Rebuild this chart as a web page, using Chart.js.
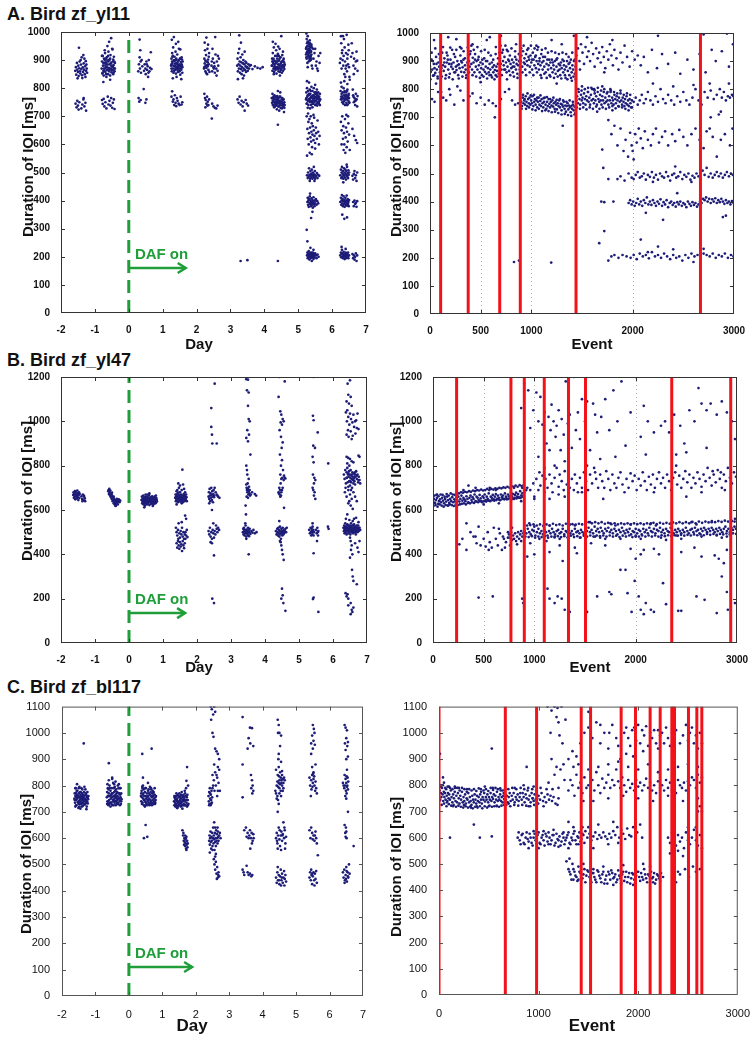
<!DOCTYPE html>
<html>
<head>
<meta charset="utf-8">
<script src="https://cdn.jsdelivr.net/npm/chart.js@4.4.1/dist/chart.umd.min.js"></script>
<style>
  body { margin: 0; background: #fff; }
  #fig { position: relative; width: 754px; height: 1039px; font-family: "Liberation Sans", Arial, sans-serif; color: #111; overflow: hidden; }
  .panel { position: absolute; }
  .title { position: absolute; left: 7px; font-weight: bold; font-size: 18px; line-height: 18px; white-space: nowrap; }
  .lab { position: absolute; font-weight: bold; font-size: 15px; line-height: 15px; white-space: nowrap; transform: translate(-50%, -50%); }
  .ylab { transform: translate(-50%, -50%) rotate(-90deg); }
  .big { font-size: 17px; line-height: 17px; }
</style>
</head>
<body>
<div id="fig">
  <div class="title" style="top:5px">A. Bird zf_yl11</div>
  <div class="title" style="top:351px">B. Bird zf_yl47</div>
  <div class="title" style="top:678px">C. Bird zf_bl117</div>

  <div class="panel" id="pAL"></div>
  <div class="panel" id="pAR"></div>
  <div class="panel" id="pBL"></div>
  <div class="panel" id="pBR"></div>
  <div class="panel" id="pCL"></div>
  <div class="panel" id="pCR"></div>

  <div class="lab ylab" style="left:27px;top:167px">Duration of IOI [ms]</div>
  <div class="lab ylab" style="left:395px;top:167px">Duration of IOI [ms]</div>
  <div class="lab ylab" style="left:26px;top:491px">Duration of IOI [ms]</div>
  <div class="lab ylab" style="left:395px;top:492px">Duration of IOI [ms]</div>
  <div class="lab ylab" style="left:25px;top:864px">Duration of IOI [ms]</div>
  <div class="lab ylab" style="left:395px;top:867px">Duration of IOI [ms]</div>

  <div class="lab" style="left:199px;top:343px">Day</div>
  <div class="lab" style="left:592px;top:343px">Event</div>
  <div class="lab" style="left:199px;top:666px">Day</div>
  <div class="lab" style="left:590px;top:666px">Event</div>
  <div class="lab big" style="left:192px;top:1025px">Day</div>
  <div class="lab big" style="left:592px;top:1025px">Event</div>
</div>

<script>
// axis settings
const dayMin = -2, dayMax = 7;
const ioiMaxA = 1000, ioiStepA = 100;
const ioiMaxB = 1200, ioiStepB = 200;
const ioiMaxC = 1100, ioiStepC = 100;
const eventTicksAB = [0, 500, 1000, 2000, 3000];
const eventTicksC = [0, 1000, 2000, 3000];
const eventGridAB = [500, 1000, 2000];

// red markers (event index)
const redA = [105, 377, 688, 891, 1441, 2669];
const redB = [233, 769, 901, 1098, 1337, 1505, 2356, 2938];
const redC = [0, 666, 980, 1428, 1522, 1829, 1973, 2120, 2221, 2338, 2351, 2365, 2505, 2589, 2639];

// "DAF on" arrow: end day and IOI level
const dafEnd = [1.68, 1.65, 1.89];
const dafLevel = [160, 135, 110];

// Bird A, day x100 / IOI ms
const dayA = [
  -158,862, -156,875, -155,848, -153,890, -152,866, -150,858, -149,880, -148,843, -146,871, -145,895, -144,860, -143,852, -141,884, -140,868, -139,910, -138,846, -136,874, -135,858, -133,888, -132,866, -130,850, -129,878, -128,840, -126,862, -125,884, -124,870, -123,855, -147,944, -134,918, -142,900, -127,896, -137,836, -151,835, -131,905,
  -157,745, -154,732, -152,755, -150,738, -148,724, -146,750, -140,728, -137,742, -134,760, -131,735, -128,748, -126,720, -133,765,
  -80,870, -79,895, -78,852, -77,915, -76,880, -75,862, -74,845, -73,905, -72,888, -71,870, -70,925, -69,858, -68,892, -67,876, -66,840, -65,910, -64,866, -63,898, -62,884, -61,850, -60,930, -59,872, -58,860, -57,900, -56,885, -55,845, -54,918, -53,868, -52,890, -51,856, -50,878, -49,940, -48,864, -47,895, -46,850, -45,882, -44,912, -43,870, -42,860, -41,890, -58,965, -52,978, -63,950, -71,935, -48,938, -75,822, -55,830, -67,905, -61,915, -54,870, -66,887, -72,862, -46,902,
  -79,915, -77,855, -75,890, -73,870, -71,900, -69,880, -67,850, -65,875, -63,865, -61,895, -59,900, -57,865, -55,905, -53,890, -51,880, -49,865, -47,875, -45,855, -43,895, -41,870,
  -79,758, -77,744, -74,762, -72,735, -69,750, -66,728, -62,770, -60,742, -57,755, -54,738, -52,765, -49,730, -47,748, -44,760, -42,726,
  28,860, 30,885, 32,910, 33,870, 34,935, 35,895, 36,855, 38,900, 40,878, 45,862, 47,885, 49,870, 50,850, 52,895, 54,865, 56,878, 57,840, 59,900, 61,860, 63,872, 65,928, 67,868, 32,973, 53,885, 58,855,
  29,765, 31,752, 35,758, 49,748, 52,760, 44,797,
  125,880, 126,905, 127,860, 128,925, 129,890, 130,870, 131,945, 132,855, 133,898, 134,878, 135,912, 136,865, 137,888, 138,930, 139,852, 140,875, 141,900, 142,868, 143,920, 144,884, 145,858, 146,895, 147,872, 148,940, 149,862, 150,885, 151,905, 152,848, 153,878, 154,893, 155,866, 156,910, 157,880, 158,855, 159,895, 127,972, 133,982, 139,958, 146,965, 152,938, 130,835, 141,840, 155,832, 126,885, 134,862, 143,890, 150,870, 157,902, 136,898, 148,880, 129,912, 145,875,
  126,870, 128,895, 130,915, 132,880, 134,900, 136,880, 138,870, 140,905, 142,885, 144,865, 146,880, 148,900, 150,860, 152,905, 154,870, 156,885, 158,875,
  126,770, 128,789, 130,752, 132,760, 134,740, 136,775, 138,748, 140,736, 142,765, 144,755, 147,745, 150,740, 153,770, 156,742, 158,750,
  222,870, 223,905, 224,888, 225,935, 226,860, 227,880, 228,918, 229,872, 230,895, 231,850, 232,940, 233,878, 234,902, 235,865, 236,885, 237,925, 238,858, 224,962, 229,980, 234,955, 226,898, 231,882, 236,912, 223,875, 228,855, 233,892, 244,880, 246,860, 248,905, 250,875, 252,890, 254,855, 256,920, 258,870, 260,895, 262,862, 264,880, 266,905, 247,940, 255,982, 259,845, 263,915, 251,870, 245,895, 253,878,
  223,780, 225,765, 227,758, 229,745, 231,770, 233,752, 235,740, 237,760, 226,732, 232,738, 246,745, 250,735, 254,730, 258,728, 262,738, 245,692,
  320,880, 321,905, 322,860, 323,925, 324,885, 325,870, 326,940, 327,895, 328,855, 329,880, 330,910, 331,868, 332,892, 333,850, 334,875, 335,920, 336,862, 337,888, 338,900, 339,870, 340,845, 341,885, 342,930, 343,865, 344,895, 345,878, 346,858, 347,890, 349,875, 351,862, 353,885, 355,870, 357,880, 326,988, 331,962, 322,832, 337,835, 350,872, 360,882, 365,868, 372,878, 380,872, 388,870, 395,875,
  321,760, 324,748, 327,770, 330,742, 333,755, 336,735, 339,750, 342,720, 345,758, 348,745, 352,738, 330,185, 350,188,
  422,880, 423,905, 424,862, 425,925, 426,890, 427,870, 428,945, 429,858, 430,898, 431,878, 432,915, 433,865, 434,888, 435,935, 436,852, 437,875, 438,905, 439,868, 440,922, 441,885, 442,860, 443,898, 444,872, 445,940, 446,858, 447,885, 448,910, 449,865, 450,878, 451,895, 452,855, 453,918, 454,882, 455,862, 456,900, 457,875, 458,892, 459,868, 460,885, 425,965, 433,958, 450,985, 441,948, 428,850, 446,845, 437,895, 455,930, 430,875, 443,915, 424,895, 452,878,
  423,880, 425,895, 427,905, 429,885, 431,870, 433,895, 435,870, 437,915, 439,895, 441,870, 443,880, 445,905, 447,870, 449,890, 451,870, 453,895, 455,880, 457,905, 459,880,
  422,765, 423,748, 424,780, 425,755, 426,740, 427,770, 428,760, 429,732, 430,775, 431,752, 432,745, 433,768, 434,738, 435,760, 436,750, 437,725, 438,772, 439,745, 440,758, 441,735, 442,765, 443,748, 444,720, 445,755, 446,742, 447,770, 448,730, 449,752, 450,745, 451,762, 452,728, 453,750, 454,740, 455,758, 456,735, 457,745, 458,715, 459,750, 460,740, 440,790, 447,785, 440,670, 440,185,
  423,765, 425,740, 427,750, 429,765, 431,735, 433,745, 435,740, 437,755, 439,765, 441,750, 443,735, 445,770, 447,755, 449,740, 451,730, 453,765, 455,745, 457,760, 459,730,
  523,920, 524,945, 525,905, 526,960, 527,930, 528,985, 529,915, 530,940, 531,895, 532,955, 533,925, 534,970, 535,910, 536,935, 537,900, 538,950, 539,920, 540,880, 524,995, 528,875, 531,938, 535,960, 539,905, 526,928, 533,948, 537,915, 525,975, 530,922, 534,898, 538,930, 527,890, 532,912, 536,945, 529,965, 545,905, 548,925, 552,880, 556,870, 560,915, 563,890, 542,870, 550,940, 558,862, 565,925, 544,940, 554,895,
  523,940, 525,925, 527,950, 529,935, 531,960, 533,905, 535,945, 537,930, 539,955, 524,910, 528,965, 532,930, 536,915, 540,945,
  523,760, 524,785, 525,745, 526,800, 527,770, 528,755, 529,790, 530,740, 531,775, 532,820, 533,760, 534,795, 535,750, 536,780, 537,765, 538,740, 539,805, 540,770, 541,755, 542,790, 543,745, 544,775, 545,760, 546,800, 547,750, 548,785, 549,765, 550,740, 551,780, 552,755, 553,770, 554,745, 555,795, 556,760, 557,775, 558,750, 559,785, 560,765, 561,745, 562,770, 563,755, 564,780, 565,760, 528,730, 535,728, 542,732, 550,812, 526,825, 531,755, 544,765, 537,790, 548,768, 556,738,
  524,765, 526,745, 528,775, 530,760, 532,780, 534,755, 536,765, 538,770, 540,750, 542,770, 544,745, 546,775, 548,755, 550,765, 552,785, 554,765, 556,780, 558,770, 560,750, 562,760, 564,740,
  525,700, 527,655, 528,620, 530,680, 531,600, 532,640, 533,690, 534,570, 535,660, 536,625, 537,700, 538,610, 539,645, 540,675, 541,590, 542,635, 543,665, 545,615, 546,650, 547,695, 548,630, 550,605, 552,660, 553,640, 555,620, 557,685, 559,645, 561,600, 563,630, 526,560, 540,565, 550,585, 529,710, 545,705,
  526,490, 528,480, 529,500, 531,485, 532,515, 533,492, 535,478, 536,505, 537,488, 538,495, 539,482, 540,510, 541,490, 542,478, 543,500, 544,488, 545,495, 546,520, 547,483, 548,492, 549,505, 550,478, 551,490, 553,486, 555,498, 557,480, 559,492, 562,488, 548,470, 534,470,
  527,395, 528,410, 529,385, 530,400, 531,378, 532,405, 533,392, 534,415, 535,388, 536,400, 537,380, 538,395, 539,408, 540,390, 541,385, 542,402, 543,375, 544,395, 545,412, 546,388, 547,398, 548,380, 549,400, 550,390, 552,405, 554,385, 556,398, 559,390, 535,425, 542,360, 538,338,
  526,205, 527,215, 528,195, 529,210, 530,200, 531,220, 532,205, 533,190, 534,212, 535,200, 536,208, 537,195, 538,215, 539,202, 540,210, 541,198, 542,206, 543,215, 544,200, 545,192, 546,210, 547,205, 548,198, 550,212, 552,205, 554,195, 557,208, 560,200, 536,232, 545,225, 540,185, 525,296, 527,255,
  625,905, 627,960, 628,870, 630,935, 632,985, 633,880, 634,915, 636,850, 637,945, 638,895, 640,870, 641,925, 643,990, 644,860, 645,905, 647,885, 648,955, 650,875, 651,840, 646,920, 639,840, 631,900, 642,880, 635,975, 629,925, 660,925, 663,880, 665,905, 668,870, 672,930, 675,862, 658,960, 670,895, 652,830, 626,985, 649,935, 664,850, 674,898, 623,890, 656,912,
  625,790, 627,770, 628,805, 630,750, 631,785, 632,765, 633,745, 634,800, 635,775, 636,755, 637,790, 638,740, 639,770, 640,760, 641,785, 642,748, 643,775, 644,760, 645,795, 646,742, 647,770, 648,755, 649,780, 650,765, 651,748, 626,820, 636,825, 645,815, 662,775, 664,750, 666,765, 668,740, 670,780, 672,760, 674,735, 661,795, 669,755, 675,772, 629,760, 644,740,
  626,760, 628,780, 630,770, 632,750, 634,765, 636,785, 638,760, 640,775, 642,770, 644,790, 646,765, 648,775, 650,750, 663,770, 667,755, 671,760,
  626,680, 628,650, 630,700, 632,620, 633,665, 635,640, 636,600, 638,690, 640,625, 641,660, 643,590, 644,645, 646,610, 648,675, 650,635, 652,580, 628,600, 639,570, 647,700, 665,630, 670,615, 674,605, 660,655, 642,705, 634,580,
  624,490, 626,510, 627,480, 628,500, 629,520, 630,485, 631,495, 632,505, 633,478, 634,492, 635,515, 636,488, 637,500, 638,482, 639,510, 640,495, 641,475, 642,505, 643,490, 644,520, 645,485, 646,498, 647,480, 648,508, 649,492, 650,500, 660,488, 662,475, 664,495, 666,505, 668,480, 670,490, 672,470, 674,500, 633,465, 643,528,
  624,395, 626,410, 627,385, 628,400, 629,420, 630,390, 631,405, 632,380, 633,398, 634,415, 635,388, 636,402, 637,378, 638,395, 639,410, 640,385, 641,400, 642,392, 643,418, 644,382, 645,398, 646,405, 647,388, 648,395, 649,380, 650,402, 662,395, 664,380, 666,400, 668,388, 670,392, 672,378, 674,398, 630,350, 636,335, 644,340,
  624,205, 626,215, 627,198, 628,210, 629,225, 630,200, 631,212, 632,195, 633,205, 634,218, 635,200, 636,208, 637,192, 638,210, 639,202, 640,215, 641,195, 642,205, 643,210, 644,198, 645,208, 646,200, 647,215, 648,195, 650,205, 660,210, 662,195, 664,205, 666,190, 668,200, 670,212, 672,185, 674,205, 628,235, 640,228
];

// Bird A, event / IOI ms
const evtA = [
  0,880, 8,862, 15,905, 22,870, 30,848, 38,890, 45,875, 52,858, 60,915, 68,870, 75,845, 82,895, 90,880, 98,860,
  105,900, 112,875, 120,930, 128,885, 135,865, 142,910, 150,880, 158,850, 165,895, 172,920, 180,870, 188,890, 195,855, 202,905, 210,880, 218,940, 225,872, 232,895, 240,860, 248,915, 255,880, 262,868, 270,900, 278,850, 285,888, 292,875, 300,920, 308,862, 315,895, 322,878, 330,905, 338,860, 345,885, 352,870, 360,850, 368,895,
  378,920, 385,900, 392,880, 400,935, 408,890, 415,870, 422,912, 430,895, 438,860, 445,925, 452,880, 460,900, 468,870, 475,905, 482,885, 490,860, 498,895, 505,875, 512,850, 520,890, 528,870, 535,910, 542,862, 550,880, 558,855, 565,900, 572,875, 580,860, 588,890, 595,870, 602,850, 610,895, 618,878, 625,860, 632,885, 640,868, 648,850, 655,880, 662,865, 670,890, 678,855,
  690,910, 698,890, 705,870, 712,930, 720,900, 728,885, 735,915, 742,870, 750,895, 758,940, 765,880, 772,905, 780,865, 788,920, 795,890, 802,875, 810,905, 818,860, 825,895, 832,880, 840,915, 848,870, 855,890, 862,855, 870,885, 878,900, 885,870,
  895,900, 902,920, 910,880, 918,935, 925,895, 932,910, 940,870, 948,925, 955,900, 962,885, 970,945, 978,905, 985,880, 992,920, 1000,895, 1008,870, 1015,930, 1022,905, 1030,885, 1038,915, 1045,875, 1052,900, 1060,940, 1068,890, 1075,870, 1082,910, 1090,885, 1098,925, 1105,895, 1112,870, 1120,900, 1128,880, 1135,915, 1142,860, 1150,890, 1158,905, 1165,870, 1172,885, 1180,850, 1188,895, 1195,875, 1202,905, 1210,860, 1218,885, 1225,870, 1232,900, 1240,855, 1248,880, 1255,910, 1262,865, 1270,890, 1278,870, 1285,850, 1292,895, 1300,875, 1308,905, 1315,860, 1322,885, 1330,870, 1338,840, 1345,880, 1352,900, 1360,865, 1368,890, 1375,850, 1382,875, 1390,905, 1398,860, 1405,885, 1412,870, 1420,900, 1428,855, 1436,880,
  4,835, 16,930, 28,900, 40,850, 52,945, 64,890, 76,838, 88,925, 100,910, 116,845, 128,950, 140,895, 152,838, 164,930, 176,905, 188,842, 200,948, 212,890, 224,835, 236,925, 248,860, 260,940, 272,885, 284,838, 296,950, 308,900, 320,845, 332,935, 344,910, 356,840, 372,948, 384,860, 396,925, 408,955, 420,850, 432,940, 444,905, 456,845, 468,950, 480,915, 492,840, 504,935, 516,905, 528,845, 540,940, 552,900, 564,838, 576,930, 588,850, 600,920, 612,842, 624,905, 636,835, 648,925, 660,845, 672,910, 684,930, 696,955, 708,850, 720,940, 732,870, 744,955, 756,860, 768,935, 780,900, 792,850, 804,945, 816,880, 828,845, 840,935, 852,905, 864,840, 876,925, 888,850, 900,945, 912,860, 924,955, 936,890, 948,850, 960,940, 972,915, 984,860, 996,955, 1008,905, 1020,850, 1032,945, 1044,920, 1056,860, 1068,950, 1080,900, 1092,850, 1104,940, 1116,915, 1128,855, 1140,945, 1152,840, 1164,930, 1176,905, 1188,845, 1200,935, 1212,895, 1224,840, 1236,930, 1248,905, 1260,845, 1272,925, 1284,885, 1296,838, 1308,930, 1320,900, 1332,850, 1344,925, 1356,835, 1368,915, 1380,895, 1392,840, 1404,930, 1416,845, 1428,905, 1438,835,
  40,975, 180,985, 260,978, 420,960, 560,975, 590,985, 700,990, 850,960, 1050,955, 1200,975, 1300,960, 1420,990, 310,945, 650,950, 500,825, 760,835, 1100,840, 1250,820, 1400,830, 60,820,
  1445,920, 1460,945, 1475,900, 1490,960, 1505,930, 1520,890, 1535,950, 1550,915, 1565,935, 1580,900, 1595,965, 1610,925, 1625,880, 1640,945, 1655,910, 1670,930, 1685,895, 1700,950, 1715,915, 1730,875, 1745,935, 1760,905, 1775,960, 1790,920, 1805,885, 1820,940, 1840,910, 1860,870, 1880,930, 1900,895, 1920,955, 1945,915, 1970,880, 1995,935, 2020,905, 2050,920, 2080,885, 2110,915, 2150,860, 2190,940, 2240,875, 2290,925, 2350,890, 2420,930, 2470,855, 2540,905, 2600,870, 2660,925, 2720,860, 2780,940, 2820,900, 2880,935, 2950,880, 2990,960, 1550,985, 1800,975, 2250,990, 2700,995, 2930,998, 1480,870, 1720,860,
  20,765, 45,755, 80,790, 130,770, 160,760, 200,780, 240,745, 300,795, 330,760, 390,775, 420,785, 460,750, 500,770, 540,745, 580,760, 620,750, 650,740, 700,765, 740,790, 780,800, 810,760, 840,745, 870,750, 190,800, 270,810, 110,790, 640,700,
  900,755, 908,740, 915,770, 922,750, 930,760, 938,745, 945,775, 952,755, 960,740, 968,765, 975,750, 982,770, 990,745, 998,760, 1005,750, 1012,775, 1020,740, 1028,755, 1035,765, 1042,745, 1050,760, 1058,735, 1065,755, 1072,770, 1080,745, 1088,758, 1095,740, 1102,765, 1110,750, 1118,735, 1125,755, 1132,770, 1140,745, 1148,730, 1155,755, 1162,740, 1170,765, 1178,748, 1185,735, 1192,755, 1200,742, 1208,760, 1215,738, 1222,750, 1230,730, 1238,755, 1245,745, 1252,728, 1260,750, 1268,740, 1275,760, 1282,735, 1290,748, 1298,725, 1305,745, 1312,738, 1320,755, 1328,730, 1335,742, 1342,720, 1350,740, 1358,750, 1365,728, 1372,742, 1380,735, 1388,718, 1395,740, 1402,730, 1410,745, 1418,725, 1426,738, 1434,715, 1310,670,
  904,730, 918,780, 934,765, 948,730, 962,785, 978,735, 994,778, 1010,728, 1026,780, 1042,725, 1058,770, 1074,730, 1090,778, 1106,722, 1122,768, 1138,725, 1154,772, 1170,722, 1186,765, 1202,718, 1218,770, 1234,720, 1250,762, 1266,715, 1282,765, 1298,710, 1314,760, 1330,712, 1346,755, 1362,708, 1378,760, 1394,705, 1410,755, 1426,710,
  1445,760, 1452,775, 1460,750, 1468,790, 1475,765, 1482,745, 1490,780, 1498,760, 1505,770, 1512,750, 1520,785, 1528,765, 1535,745, 1542,775, 1550,760, 1558,790, 1565,755, 1572,770, 1580,745, 1588,780, 1595,760, 1602,800, 1610,765, 1618,750, 1625,785, 1632,760, 1640,775, 1648,745, 1655,790, 1662,765, 1670,755, 1678,780, 1685,760, 1692,745, 1700,775, 1708,760, 1715,790, 1722,750, 1730,770, 1738,755, 1745,785, 1752,760, 1760,745, 1768,775, 1775,760, 1782,790, 1790,750, 1798,770, 1805,760, 1812,745, 1820,780, 1828,765, 1835,750, 1842,775, 1850,760, 1858,740, 1865,770, 1872,755, 1880,785, 1888,760, 1895,745, 1902,770, 1910,755, 1918,740, 1925,765, 1932,750, 1940,775, 1948,745, 1955,760, 1962,740, 1970,765, 1978,750, 1985,735, 1992,760, 1500,810, 1560,805, 1620,800, 1700,810, 1780,800, 1650,720, 1800,725,
  1448,735, 1464,800, 1480,730, 1496,795, 1512,735, 1528,800, 1544,728, 1560,790, 1576,735, 1592,805, 1608,730, 1624,795, 1640,738, 1656,805, 1672,730, 1688,795, 1704,735, 1720,800, 1736,730, 1752,790, 1768,735, 1784,795, 1800,740, 1816,790, 1832,732, 1848,785, 1864,738, 1880,795, 1896,735, 1912,780, 1928,730, 1944,785, 1960,725, 1976,780, 1994,735,
  2010,755, 2030,770, 2050,745, 2070,760, 2090,780, 2110,750, 2130,765, 2150,790, 2175,760, 2200,745, 2225,775, 2250,755, 2275,800, 2300,765, 2325,750, 2350,780, 2380,760, 2410,745, 2440,775, 2470,755, 2500,790, 2530,760, 2560,745, 2590,770, 2620,800, 2650,760, 2680,745, 2710,790, 2740,770, 2770,795, 2800,765, 2830,780, 2860,800, 2880,770, 2900,790, 2920,760, 2940,775, 2960,770, 2980,780, 2995,775, 2200,820, 2400,810, 2600,815, 2760,820, 2950,820, 2870,720,
  1760,690, 1790,640, 1820,670, 1850,600, 1880,660, 1910,580, 1930,620, 1955,560, 1975,645, 1990,600, 2010,550, 2025,640, 2040,610, 2060,660, 2080,625, 2100,590, 2120,650, 2150,620, 2180,600, 2200,640, 2230,660, 2260,610, 2290,630, 2320,650, 2350,600, 2390,640, 2420,615, 2460,655, 2500,630, 2540,600, 2580,640, 2620,660, 2660,620, 2700,590, 2730,650, 2760,660, 2790,630, 2830,560, 2870,620, 2910,640, 2960,600, 2985,660, 2000,580, 2850,710, 2770,700,
  1850,480, 1880,490, 1920,475, 1960,500, 1990,485, 2010,480, 2030,495, 2050,505, 2070,485, 2090,490, 2110,500, 2130,478, 2150,495, 2170,488, 2190,505, 2210,485, 2230,495, 2250,478, 2270,500, 2290,490, 2310,485, 2330,505, 2350,490, 2370,475, 2390,495, 2410,500, 2430,485, 2450,490, 2470,505, 2490,480, 2510,495, 2530,488, 2550,500, 2570,478, 2590,492, 2610,485, 2630,500, 2650,490, 2670,480, 2690,510, 2710,495, 2730,520, 2750,488, 2770,500, 2790,485, 2810,495, 2830,505, 2850,490, 2870,500, 2890,485, 2910,495, 2930,505, 2950,490, 2970,500, 2990,495, 2420,525, 2200,470, 2580,470,
  1960,395, 1975,405, 1990,390, 2005,400, 2020,385, 2035,395, 2050,410, 2065,390, 2080,400, 2095,385, 2110,405, 2125,395, 2140,415, 2155,390, 2170,400, 2185,388, 2200,405, 2215,395, 2230,385, 2245,400, 2260,392, 2275,408, 2290,385, 2305,398, 2320,390, 2335,405, 2350,380, 2365,395, 2380,400, 2395,388, 2410,395, 2425,382, 2440,398, 2455,390, 2470,400, 2485,385, 2500,395, 2515,390, 2530,380, 2545,400, 2560,392, 2575,385, 2590,398, 2605,388, 2620,395, 2635,382, 2650,390, 2665,400, 2680,395, 2695,410, 2710,405, 2725,415, 2740,400, 2755,410, 2770,395, 2785,408, 2800,400, 2815,412, 2830,395, 2845,405, 2860,398, 2875,410, 2890,400, 2905,392, 2920,405, 2935,395, 2950,400, 2965,390, 2980,402, 2995,395, 1810,400, 1690,400, 2440,430, 2130,360, 2300,335, 2920,350, 2890,345,
  1760,190, 1790,205, 1820,210, 1860,200, 1900,210, 1940,205, 1980,200, 2010,210, 2040,195, 2070,215, 2100,205, 2130,210, 2160,198, 2190,220, 2220,205, 2250,210, 2280,200, 2310,215, 2340,205, 2370,195, 2400,210, 2430,200, 2460,205, 2490,190, 2520,210, 2550,200, 2580,215, 2610,205, 2640,210, 2670,200, 2700,215, 2730,210, 2760,205, 2790,215, 2820,200, 2850,210, 2880,205, 2910,215, 2940,200, 2970,210, 2995,205, 2250,240, 2150,220, 2700,232, 2400,230, 2600,185, 2080,265,
  829,185, 878,190, 1196,183, 1720,295, 1670,252, 1700,585, 1710,520, 1760,480, 1720,398
];

// Bird B, day x100 / IOI ms
const dayB = [
  -164,668, -163,680, -162,655, -161,672, -160,660, -159,685, -158,648, -157,670, -156,662, -155,678, -154,652, -153,666, -152,688, -151,658, -150,675, -149,645, -148,668, -147,680, -146,655, -145,672, -140,662, -138,650, -136,670, -134,645, -132,660, -130,652, -129,640, -133,665, -137,640,
  -61,685, -60,690, -59,672, -58,695, -57,680, -56,668, -55,688, -54,660, -53,675, -52,655, -51,670, -50,648, -49,662, -48,640, -47,658, -46,645, -45,630, -44,650, -43,638, -42,625, -41,645, -40,632, -39,618, -38,640, -37,628, -36,650, -35,635, -34,645, -33,625, -32,640, -30,648, -28,635, -26,642, -55,665, -50,678, -45,660, -40,620,
  37,645, 38,660, 39,630, 40,650, 41,640, 42,665, 43,625, 44,648, 45,635, 46,658, 47,620, 48,645, 49,670, 50,632, 51,652, 52,640, 53,625, 54,660, 55,645, 56,630, 57,655, 58,640, 59,668, 60,622, 61,648, 62,635, 63,658, 64,642, 65,628, 66,650, 67,638, 68,662, 69,630, 70,645, 71,655, 72,625, 73,648, 74,638, 75,660, 76,632, 77,650, 78,642, 79,665, 80,635, 81,648, 82,640, 45,612, 60,675, 70,618, 55,670,
  38,645, 40,630, 42,645, 44,655, 46,640, 48,630, 50,660, 52,650, 54,635, 56,650, 58,655, 60,645, 62,650, 64,655, 66,640, 68,645, 70,635, 72,650, 74,655, 76,645, 78,630, 80,655,
  136,655, 137,670, 138,640, 139,662, 140,685, 141,648, 142,660, 143,675, 144,635, 145,655, 146,668, 147,700, 148,645, 149,660, 150,680, 151,638, 152,658, 153,670, 154,650, 155,690, 156,642, 157,665, 158,655, 159,715, 160,648, 161,672, 162,658, 163,640, 164,665, 165,680, 166,652, 167,645, 168,670, 169,658, 170,640, 140,625, 150,710, 162,695, 145,720, 155,630, 148,680, 158,635, 152,645, 142,690, 157,782,
  137,655, 139,650, 141,670, 143,655, 145,640, 147,660, 149,650, 151,665, 153,655, 155,660, 157,645, 159,660, 161,650, 163,670, 165,660, 167,655,
  138,520, 140,500, 142,485, 144,510, 146,540, 148,495, 150,475, 152,505, 154,490, 156,520, 158,480, 160,500, 162,470, 164,490, 166,500, 168,485, 170,510, 172,478, 140,450, 142,430, 144,460, 146,440, 148,425, 150,455, 152,435, 154,445, 156,415, 158,460, 160,440, 162,428, 164,450, 166,470, 168,560, 165,575, 155,545, 145,470,
  234,660, 235,680, 236,650, 237,695, 238,665, 239,640, 240,675, 241,655, 242,700, 243,668, 244,645, 245,685, 246,660, 247,635, 248,672, 249,690, 250,658, 251,665, 258,670, 262,660, 266,655, 255,680, 252,700, 236,630, 244,600, 260,665,
  234,505, 236,490, 238,520, 240,480, 242,500, 244,470, 246,510, 248,495, 250,475, 252,505, 254,490, 256,530, 258,515, 260,500, 262,520, 265,510, 240,455, 248,540, 244,450,
  252,1170, 242,1060, 242,975, 244,940, 245,900, 258,900, 245,200, 250,180, 250,395,
  345,1190, 350,1188, 347,1140, 352,1130, 350,1070, 352,1010, 355,1000, 348,960, 353,940, 345,925, 350,910, 357,850, 345,800, 347,780, 348,760, 352,740, 345,715, 346,700, 347,690, 348,680, 349,720, 350,695, 351,670, 352,685, 353,705, 354,675, 355,690, 356,665, 346,660, 350,655, 358,670, 362,680, 370,672, 374,665, 343,620, 344,580,
  335,500, 336,515, 337,490, 338,520, 339,505, 340,485, 341,510, 342,495, 343,530, 344,500, 345,480, 346,512, 347,495, 348,505, 349,488, 350,520, 351,498, 352,510, 353,482, 354,500, 355,515, 357,492, 360,505, 363,498, 366,510, 370,495, 375,500, 352,400, 345,470, 342,540,
  442,1200, 458,1180, 440,1110, 445,1045, 448,1030, 452,1010, 446,995, 450,985, 455,1000, 443,960, 447,930, 452,905, 449,880, 444,850, 450,825, 447,800, 453,780, 445,760, 456,755, 451,745, 448,740, 455,735, 446,720, 442,700, 444,690, 448,680, 441,675, 443,670, 447,665, 450,690, 452,700, 458,745, 460,742, 440,680, 445,660, 456,610,
  432,505, 434,490, 436,515, 437,500, 438,485, 439,520, 440,495, 441,510, 442,480, 443,505, 444,525, 445,490, 446,500, 447,470, 448,515, 449,495, 450,505, 451,485, 452,520, 453,500, 454,490, 455,510, 456,495, 458,505, 460,515, 462,500, 464,520, 442,550, 446,455, 448,440, 450,420, 452,400, 455,375, 444,460,
  450,245, 452,215, 448,200, 454,180, 460,145,
  543,1200, 541,1025, 543,1005, 555,950, 542,890, 547,880, 540,840, 543,815, 541,760, 545,745, 548,735, 544,720, 540,700, 542,690, 546,680, 544,665, 548,650,
  530,510, 532,495, 534,520, 535,500, 536,485, 537,515, 538,505, 539,490, 540,525, 541,500, 542,510, 543,485, 544,500, 550,510, 552,495, 554,520, 555,500, 556,485, 557,505, 553,460, 540,540,
  543,405, 543,205, 541,198, 557,140, 586,810, 585,525, 587,515,
  648,1200, 650,1185, 643,1170, 645,1120, 652,1110, 640,1090, 647,1080, 655,1070, 642,1050, 638,1040, 650,1035, 660,1030, 645,1020, 653,1010, 668,1005, 641,1000, 657,995, 648,985, 662,975, 670,970, 675,965, 644,960, 652,955, 666,945, 640,940, 658,935, 672,1035, 665,1000, 646,930, 655,920,
  640,840, 645,835, 650,830, 655,820, 642,810, 660,815, 675,845, 678,840, 648,800,
  632,760, 634,740, 636,780, 638,720, 640,770, 641,745, 642,790, 643,725, 644,760, 645,705, 646,750, 647,775, 648,730, 649,760, 650,710, 651,745, 652,780, 653,725, 654,755, 655,740, 656,700, 657,770, 658,735, 659,750, 660,720, 661,765, 662,745, 663,730, 664,760, 665,715, 666,750, 668,775, 670,740, 672,760, 674,725, 676,750, 678,735, 680,720, 637,700, 653,690,
  640,745, 645,765, 650,730, 655,760, 660,740, 665,770, 670,755, 675,735,
  635,680, 640,660, 645,690, 648,640, 650,670, 652,620, 655,650, 658,605, 660,680, 645,630, 665,660, 670,640, 642,580, 662,560,
  631,520, 632,505, 633,530, 634,495, 635,515, 636,540, 637,500, 638,525, 639,510, 640,490, 641,520, 642,535, 643,505, 644,515, 645,495, 646,530, 647,510, 648,500, 649,525, 650,515, 651,490, 652,520, 653,540, 654,505, 655,515, 656,500, 657,530, 658,510, 659,495, 660,520, 661,505, 662,535, 663,515, 664,500, 665,525, 666,510, 667,490, 668,520, 669,505, 670,530, 671,515, 672,500, 673,520, 674,510, 675,545, 676,505, 678,520, 680,510, 638,560, 648,555, 658,550, 668,565,
  632,520, 634,510, 636,525, 638,505, 640,515, 642,510, 644,530, 646,505, 648,520, 650,530, 652,505, 654,525, 656,515, 658,530, 660,505, 662,515, 664,525, 666,500, 668,510, 670,520, 672,515, 674,530, 676,520,
  650,475, 652,460, 655,440, 653,420, 657,400, 650,385, 665,450, 672,430, 675,410, 678,460, 656,330, 658,300, 660,280, 670,265,
  637,225, 640,210, 643,220, 645,200, 652,180, 655,150, 657,140, 652,130, 660,160, 645,170
];

// Bird B, event / IOI ms
const evtB = [
  0,640, 10,650, 20,632, 30,645, 40,655, 50,628, 60,640, 70,648, 80,635, 90,655, 100,642, 110,630, 120,650, 130,638, 140,660, 150,645, 160,632, 170,650, 180,640, 190,658, 200,635, 210,648, 220,640, 230,655, 240,645, 250,660, 260,638, 270,650, 280,665, 290,642, 300,655, 310,648, 320,640, 330,662, 340,650, 350,635, 360,655, 370,665, 380,645, 390,658, 400,650, 410,670, 420,640, 430,660, 440,655, 450,645, 460,668, 470,652, 480,640, 490,662, 500,655, 510,670, 520,645, 530,660, 540,650, 550,675, 560,642, 570,660, 580,655, 590,668, 600,648, 610,660, 620,672, 630,650, 640,665, 650,655, 660,645, 670,670, 680,658, 690,665, 700,650, 710,675, 720,660, 730,648, 740,670, 750,662, 760,655, 770,680, 780,660, 790,672, 800,650, 810,668, 820,678, 830,660, 840,672, 850,655, 860,685, 870,665, 880,675, 890,660, 900,680,
  5,618, 15,665, 25,622, 35,668, 45,615, 55,662, 65,625, 75,670, 85,620, 95,668, 105,615, 115,660, 125,622, 135,672, 145,620, 155,665, 165,625, 175,675, 185,622, 195,670, 205,618, 215,668, 225,625, 235,678, 245,622, 255,675, 265,625, 275,680, 285,628, 295,678, 305,630, 315,682, 325,625, 335,680, 345,632, 355,685, 365,630, 375,682, 385,635, 395,688, 405,632, 415,685, 425,638, 435,690, 445,635, 455,688, 465,640, 475,692, 485,635, 495,688, 505,640, 515,690, 525,638, 535,695, 545,642, 555,690, 565,640, 575,695, 585,645, 595,692, 605,642, 615,698, 625,645, 635,695, 645,648, 655,700, 665,645, 675,698, 685,650, 695,702, 705,648, 715,700, 725,652, 735,705, 745,650, 755,700, 765,655, 775,708, 785,650, 795,705, 805,655, 815,710, 825,652, 835,705, 845,658, 855,712, 865,655, 875,708, 885,660, 895,712,
  40,670, 150,620, 300,690, 420,700, 560,700, 620,690, 650,630, 350,710, 230,620, 500,625, 800,700, 870,640, 880,700, 920,690,
  930,700, 960,690, 990,720, 1000,660, 1020,740, 1040,690, 1050,770, 1060,710, 1080,755, 1100,680, 1110,740, 1130,700, 1150,760, 1170,720, 1180,680, 1200,745, 1220,790, 1240,705, 1250,760, 1270,730, 1290,690, 1300,775, 1320,715, 1340,750, 1350,700, 1370,740, 1390,690, 1400,760, 1420,720, 1430,680, 1450,745, 1470,700, 1490,770, 1510,730, 1530,690, 1550,760, 1570,720, 1590,790, 1610,740, 1630,700, 1650,760, 1670,730, 1690,700, 1710,775, 1730,740, 1750,690, 1770,760, 1790,720, 1810,700, 1830,745, 1850,770, 1870,715, 1890,680, 1910,740, 1930,700, 1950,765, 1970,730, 1990,755, 2010,690, 2030,740, 2050,710, 2070,770, 2090,730, 2110,690, 2130,750, 2150,715, 2170,760, 2190,700, 2210,740, 2230,770, 2250,720, 2270,745, 2290,700, 2310,760, 2330,730, 2350,690, 2370,745, 2390,770, 2410,715, 2430,755, 2450,700, 2470,740, 2490,775, 2510,725, 2530,760, 2550,700, 2570,745, 2590,720, 2610,770, 2630,740, 2650,705, 2670,760, 2690,730, 2710,790, 2730,745, 2750,710, 2770,760, 2790,725, 2810,780, 2830,740, 2850,700, 2870,760, 2890,730, 2910,790, 2930,745, 2950,720, 2970,770, 2990,750, 1520,800, 1600,770, 1200,800, 1100,790, 2400,800, 1000,650, 1300,660, 1470,680, 1680,650, 2180,680, 2650,680, 2880,690, 2500,660, 1150,650, 1240,670, 2760,775, 2840,770,
  870,1060, 900,1170, 940,1140, 960,970, 990,1050, 1020,1130, 1040,1000, 1060,1110, 1080,985, 1100,1040, 1120,900, 1140,1020, 1160,960, 1170,1075, 1190,1000, 1210,930, 1220,980, 1240,1050, 1260,870, 1270,1010, 1290,940, 1310,1180, 1330,990, 1350,1030, 1370,880, 1390,1200, 1410,960, 1430,1040, 1450,920, 1470,1100, 1500,1000, 1520,1090, 1550,870, 1580,1080, 1600,1030, 1620,950, 1660,1020, 1700,1100, 1740,960, 1780,1140, 1820,1000, 1860,1180, 1900,890, 1950,1040, 2000,1200, 2050,930, 2080,1070, 2120,1000, 2180,950, 2250,980, 2290,1000, 2330,950, 2380,1030, 2440,980, 2480,900, 2530,1050, 2580,1000, 2620,1150, 2650,1080, 2700,1050, 2740,1080, 2800,1030, 2850,1090, 2900,1040, 2950,1000, 2980,920, 1800,840, 2100,850, 2500,860, 2700,880, 1040,840, 1150,870, 1300,820, 1650,830, 2400,850,
  260,445, 290,470, 330,420, 370,500, 400,480, 430,450, 450,525, 470,440, 500,470, 520,435, 540,500, 560,455, 580,430, 600,520, 620,470, 640,440, 660,495, 680,420, 700,470, 720,455, 740,500, 760,440, 330,540, 420,480, 550,420, 650,515, 690,480, 710,430, 740,475,
  750,490, 760,475, 770,500, 780,465, 790,485, 800,470, 810,495, 820,460, 830,480, 840,500, 850,470, 860,490, 870,460, 880,480, 890,495, 900,475, 780,520, 830,445, 870,505,
  905,505, 920,495, 935,515, 950,500, 965,490, 980,510, 995,505, 1010,485, 1025,500, 1040,515, 1055,495, 1070,505, 1085,490, 1100,510, 1115,500, 1130,485, 1145,505, 1160,495, 1175,515, 1190,500, 1205,490, 1220,505, 1235,510, 1250,495, 1265,500, 1280,515, 1295,490, 1310,505, 1325,500, 1340,510, 1355,495, 1370,505, 1385,490, 1400,515, 1415,500, 1430,505, 1445,495, 1460,510, 1475,500, 1490,490, 1505,515, 1520,505, 1535,520, 1550,500, 1565,510, 1580,495, 1595,525, 1610,505, 1625,515, 1640,500, 1655,520, 1670,505, 1685,495, 1700,515, 1715,505, 1730,520, 1745,500, 1760,510, 1775,495, 1790,515, 1805,505, 1820,490, 1835,510, 1850,500, 1865,520, 1880,505, 1895,495, 1910,510, 1925,500, 1940,515, 1955,490, 1970,505, 1985,500, 2000,515, 2015,495, 2030,510, 2045,505, 2060,490, 2075,515, 2090,500, 2105,510, 2120,495, 2135,520, 2150,505, 2165,500, 2180,515, 2195,495, 2210,510, 2225,505, 2240,520, 2255,500, 2270,510, 2285,495, 2300,515, 2315,505, 2330,500, 2345,520, 2360,505, 2375,495, 2390,510, 2405,500, 2420,515, 2435,505, 2450,495, 2465,510, 2480,500, 2495,520, 2510,505, 2525,495, 2540,510, 2555,515, 2570,500, 2585,520, 2600,505, 2615,510, 2630,495, 2645,515, 2660,505, 2675,520, 2690,510, 2705,500, 2720,515, 2735,505, 2750,520, 2765,510, 2780,500, 2795,515, 2810,505, 2825,520, 2840,510, 2855,500, 2870,515, 2885,525, 2900,505, 2915,515, 2930,500, 2945,520, 2960,510, 2975,525, 2990,515,
  912,480, 928,530, 944,478, 960,532, 976,482, 992,535, 1008,475, 1024,530, 1040,480, 1056,535, 1072,478, 1088,528, 1104,482, 1120,535, 1136,475, 1152,530, 1168,480, 1184,538, 1200,476, 1216,532, 1232,482, 1248,535, 1264,478, 1280,530, 1296,482, 1312,538, 1328,476, 1344,532, 1360,484, 1376,536, 1392,478, 1408,534, 1424,482, 1440,538, 1456,476, 1472,535, 1488,484, 1504,540, 1520,480, 1536,545, 1552,485, 1568,540, 1584,480, 1600,545, 1616,485, 1632,540, 1648,482, 1664,545, 1680,485, 1696,538, 1712,480, 1728,542, 1744,485, 1760,536, 1776,480, 1792,540, 1808,484, 1824,535, 1840,478, 1856,540, 1872,484, 1888,536, 1904,480, 1920,540, 1936,485, 1952,535, 1968,478, 1984,540, 2000,484, 2016,536, 2032,480, 2048,540, 2064,485, 2080,535, 2096,480, 2112,540, 2128,485, 2144,536, 2160,480, 2176,542, 2192,485, 2208,536, 2224,480, 2240,542, 2256,486, 2272,538, 2288,482, 2304,542, 2320,486, 2336,538, 2352,482, 2368,544, 2384,486, 2400,540, 2416,484, 2432,545, 2448,488, 2464,540, 2480,484, 2496,545, 2512,488, 2528,540, 2544,485, 2560,546, 2576,490, 2592,540, 2608,486, 2624,548, 2640,490, 2656,542, 2672,486, 2688,548, 2704,492, 2720,544, 2736,488, 2752,550, 2768,492, 2784,545, 2800,488, 2816,550, 2832,492, 2848,546, 2864,490, 2880,552, 2896,494, 2912,548, 2928,490, 2944,552, 2960,495, 2976,548, 2992,492,
  950,540, 1050,470, 1150,530, 1250,470, 1350,535, 1450,475, 1550,545, 1650,475, 1750,540, 1850,470, 1950,535, 2050,470, 2150,540, 2250,475, 2350,540, 2450,470, 2550,545, 2650,480, 2750,545, 2850,475, 2950,550, 1000,525, 1200,480, 1400,530, 1600,480, 1800,530, 2000,480, 2200,530, 2400,485, 2600,535, 2800,485, 2980,560, 1120,460, 1700,470, 2300,465, 2900,480,
  1000,400, 1150,410, 1280,370, 1420,405, 1560,450, 1900,330, 1950,425, 2000,380, 2050,400, 2080,420, 2180,425, 2230,400, 2450,410, 2580,430, 2650,390, 2780,395, 2820,380, 2870,360, 2900,420, 2850,300, 1700,440, 1400,430, 1250,440, 930,390, 960,450,
  450,205, 590,210, 880,200, 890,180, 1130,245, 1150,200, 1200,180, 1230,210, 1270,200, 1300,150, 1350,140, 1520,140, 1620,210, 1740,230, 1760,220, 1920,225, 2030,210, 2050,150, 2080,130, 2100,180, 2150,150, 2180,140, 2270,270, 2420,145, 2450,145, 2600,210, 2680,195, 2800,135, 2900,230, 2910,150, 2980,180, 1960,140, 2300,175, 1990,280, 1850,330
];

// Bird C, day x100 / IOI ms
const dayC = [
  -163,750, -162,770, -161,735, -160,760, -159,790, -158,745, -157,725, -156,765, -155,750, -154,780, -153,738, -152,755, -151,715, -150,770, -149,742, -148,795, -147,758, -146,730, -145,748, -144,775, -143,740, -142,760, -141,720, -140,752, -139,785, -138,745, -137,765, -136,732, -135,755, -134,775, -133,740, -132,762, -131,728, -130,750, -129,770, -128,745, -127,710, -126,760, -125,740, -124,755, -123,732, -122,748, -121,760, -160,720, -155,805, -150,730, -145,712, -142,790, -138,722, -133,795, -128,765, -158,772, -153,762, -147,738, -143,755, -135,960,
  -162,745, -160,790, -158,725, -156,780, -154,760, -152,735, -150,755, -148,720, -146,775, -144,750, -142,730, -140,770, -138,760, -136,750, -134,728, -132,745, -130,785, -128,735, -126,720, -124,775, -140,735, -150,790, -157,755, -145,765, -135,742,
  -66,755, -65,775, -64,740, -63,790, -62,760, -61,725, -60,770, -59,745, -58,800, -57,760, -56,735, -55,780, -54,750, -53,765, -52,730, -51,790, -50,755, -49,770, -48,740, -47,810, -46,760, -45,725, -44,775, -43,750, -42,795, -41,740, -40,765, -39,755, -38,785, -37,730, -36,760, -35,775, -34,745, -33,800, -32,758, -31,735, -30,770, -29,750, -28,790, -27,742, -26,765, -25,755, -24,730, -23,770, -22,748, -60,820, -50,825, -40,815, -30,805, -55,720, -45,745, -35,735, -60,885, -50,830, -62,738, -42,760, -38,742,
  -65,730, -63,760, -61,785, -59,730, -57,790, -55,760, -53,735, -51,770, -49,725, -47,745, -45,790, -43,735, -41,780, -39,725, -37,770, -35,750, -33,730, -31,790, -29,770, -27,725, -25,790, -23,740, -64,805, -44,805,
  36,760, 37,740, 38,780, 39,755, 40,795, 41,735, 42,765, 43,750, 44,785, 45,725, 46,760, 47,745, 48,775, 49,738, 50,760, 51,790, 52,750, 53,730, 54,770, 55,755, 56,742, 57,780, 58,760, 59,735, 60,770, 61,750, 62,725, 63,765, 64,745, 65,775, 66,740, 67,760, 68,730, 69,755, 70,770, 71,745, 72,760, 73,735, 74,775, 75,750, 76,740, 77,765, 78,730, 79,755, 80,745, 81,760, 42,800, 48,720, 57,810, 66,790, 40,920, 68,940, 42,830, 50,650, 45,600, 55,605,
  37,770, 39,730, 41,790, 43,770, 45,745, 47,725, 49,790, 51,735, 53,760, 55,725, 57,745, 59,785, 61,730, 63,795, 65,735, 67,785, 69,725, 71,780, 73,770, 75,730, 77,790, 79,735,
  135,740, 136,725, 137,755, 138,735, 139,720, 140,745, 141,760, 142,730, 143,750, 144,715, 145,740, 146,765, 147,735, 148,725, 149,755, 150,740, 151,770, 152,730, 153,745, 154,760, 155,720, 156,750, 157,735, 158,775, 159,740, 160,725, 161,755, 162,745, 163,765, 164,730, 165,750, 166,740, 167,780, 168,725, 169,760, 170,745, 171,790, 172,735, 173,755, 174,720, 175,765, 176,745, 177,800, 178,730, 145,715, 160,712, 172,818, 174,870,
  136,760, 138,750, 140,725, 142,770, 144,745, 146,720, 148,760, 150,725, 152,755, 154,735, 156,765, 158,725, 160,760, 162,725, 164,755, 166,725, 168,770, 170,725, 172,760, 174,745, 176,725,
  160,630, 162,610, 164,590, 165,575, 166,600, 167,585, 168,570, 169,595, 170,580, 171,560, 172,605, 173,575, 174,590, 175,565, 176,580, 163,620, 170,600, 172,555, 168,610,
  238,760, 239,740, 240,775, 241,730, 242,790, 243,750, 244,725, 245,765, 246,745, 247,780, 248,735, 249,755, 240,725, 243,770, 246,730, 250,790, 252,800, 254,820, 256,780, 258,850, 260,800, 262,840, 264,760, 266,870, 268,810, 270,900, 262,930, 266,920, 272,780, 255,880, 258,940, 250,840, 245,1100, 248,1090, 252,1070, 255,1100, 258,1080, 246,1050, 250,1000, 253,985, 270,860, 266,780, 264,830,
  240,590, 241,610, 242,575, 243,600, 244,625, 245,585, 246,560, 247,605, 248,590, 249,620, 250,570, 251,600, 252,640, 253,580, 254,610, 255,595, 256,555, 257,620, 258,585, 259,600, 260,570, 261,630, 262,590, 263,615, 264,600, 265,580, 266,625, 267,605, 268,590, 270,610, 272,620, 274,600, 242,545, 250,555, 258,640, 255,660, 265,640,
  254,520, 256,500, 258,480, 260,510, 262,465, 264,490, 266,450, 268,470, 263,445, 267,460, 260,540, 270,455, 258,530,
  340,1060, 362,1020, 368,1018, 358,980, 363,960, 372,950, 355,940, 340,880, 365,840, 368,820, 370,800, 372,780, 369,770, 340,755, 366,790,
  350,640, 355,620, 360,610, 362,630, 365,600, 367,620, 370,590, 372,615, 368,580, 358,600, 363,560, 373,600, 345,630, 352,605,
  340,480, 343,470, 345,460, 352,495, 355,470, 358,460, 362,465, 366,455, 369,460,
  445,1050, 448,1030, 450,1000, 455,990, 446,1000, 452,950, 448,920, 447,900, 455,890, 440,860, 445,840, 448,870, 450,820, 452,850, 454,830, 456,810, 458,840, 460,825, 442,800, 444,815, 446,795, 448,810, 450,790, 452,805, 454,780, 456,820, 458,800, 460,780, 462,810, 464,830, 466,820, 438,780, 440,770, 442,750, 444,760, 446,745, 450,770, 455,760, 448,730, 445,700, 462,790, 458,855, 449,835,
  440,600, 442,620, 444,580, 446,610, 448,640, 450,595, 452,570, 454,610, 456,625, 458,590, 460,615, 462,660, 464,600, 466,630, 468,580, 470,605, 445,560, 455,555, 465,640, 443,590, 451,630, 459,610, 467,560,
  440,450, 442,430, 444,470, 446,440, 448,460, 450,425, 452,455, 454,480, 456,440, 458,465, 460,430, 462,450, 464,475, 466,445, 468,460, 470,435, 445,490, 455,420, 465,420, 449,440, 457,450,
  550,1030, 553,1015, 555,1000, 548,990, 552,970, 545,960, 550,940, 556,955, 545,920, 558,880, 548,870, 552,850, 540,830, 545,820, 548,840, 550,810, 552,825, 555,800, 558,815, 560,790, 542,800, 546,785, 554,835, 557,780, 544,760, 562,770, 551,845, 549,795,
  540,630, 543,600, 545,640, 548,620, 552,610, 555,590, 558,625, 560,600, 562,580, 550,595, 565,535, 556,610,
  540,450, 542,470, 544,440, 546,460, 548,425, 550,455, 552,470, 554,440, 556,465, 558,445, 560,475, 562,430, 545,480, 555,420, 548,465,
  645,1030, 648,1020, 652,1010, 650,980, 655,965, 646,960, 653,950, 648,935, 655,910, 650,900, 652,860, 645,840, 648,825, 650,810, 652,795, 654,830, 656,815, 644,790, 646,800, 649,780, 651,770, 653,800, 655,785, 647,760, 640,810, 642,800, 650,750, 655,700, 651,835,
  645,650, 647,620, 649,640, 651,600, 648,605, 672,570, 650,625,
  640,470, 642,450, 644,480, 646,440, 648,460, 650,490, 652,435, 654,470, 656,450, 658,500, 660,465, 645,430, 655,455, 649,445, 651,475
];

// Bird C, event / IOI ms
const evtC = [
  0,760, 6,780, 12,745, 18,770, 24,755, 30,790, 36,765, 42,740, 48,775, 54,755, 60,770, 66,745, 72,785, 78,760, 84,740, 90,770, 96,750, 102,765, 110,745, 118,780, 126,755, 134,735, 142,765, 150,750, 158,775, 166,740, 174,760, 182,735, 190,770, 198,750, 206,730, 214,760, 222,745, 230,775, 238,735, 246,755, 254,740, 262,765, 270,730, 278,750, 286,745, 294,770, 302,735, 310,755, 318,740, 326,725, 334,760, 342,745, 350,735, 358,765, 366,745, 374,730, 382,760, 390,740, 398,755, 406,735, 414,765, 422,745, 430,730, 438,755, 446,745, 454,770, 462,738, 470,755, 478,745, 486,765, 494,735, 502,755, 510,745, 518,770, 526,740, 534,755, 542,748, 550,765, 558,735, 566,760, 574,745, 582,775, 590,740, 598,755, 606,745, 614,765, 622,740, 630,755, 638,735, 646,760, 654,748, 662,740,
  3,740, 15,795, 27,725, 39,800, 51,730, 63,790, 75,720, 87,795, 99,728, 111,790, 123,722, 135,785, 147,725, 159,795, 171,718, 183,790, 195,722, 207,780, 219,718, 231,790, 243,715, 255,785, 267,720, 279,775, 291,715, 303,785, 315,720, 327,780, 339,712, 351,785, 363,718, 375,778, 387,715, 399,788, 411,720, 423,775, 435,712, 447,780, 459,720, 471,785, 483,715, 495,778, 507,722, 519,790, 531,718, 543,782, 555,720, 567,790, 579,722, 591,785, 603,718, 615,788, 627,722, 639,780, 651,725, 663,785,
  20,800, 50,810, 80,735, 100,795, 140,720, 160,790, 200,790, 250,725, 280,785, 320,715, 380,720, 420,785, 460,795, 500,720, 540,790, 580,720, 620,780, 650,770, 10,920, 40,830, 350,650, 110,600, 410,600, 530,605, 530,940,
  672,745, 680,760, 690,735, 700,755, 710,770, 720,740, 730,760, 740,745, 750,770, 760,735, 770,755, 780,745, 790,765, 800,740, 810,755, 820,790, 830,745, 840,770, 850,755, 860,735, 870,765, 880,750, 890,780, 900,745, 910,760, 920,735, 930,770, 940,750, 950,740, 960,765, 970,745, 985,750, 700,730, 760,790, 850,800, 900,720, 950,795, 880,870, 940,750,
  676,725, 696,785, 716,720, 736,790, 756,725, 776,785, 796,722, 816,770, 836,725, 856,785, 876,722, 896,790, 916,720, 936,785, 956,725, 976,780, 996,730,
  1000,760, 1015,745, 1030,770, 1045,740, 1060,755, 1075,735, 1090,765, 1105,745, 1120,760, 1135,740, 1150,755, 1170,730, 1190,725, 1020,790, 1080,785, 1140,785, 1200,750, 1050,720,
  790,600, 810,590, 830,610, 850,580, 870,600, 890,595, 910,615, 930,580, 950,600, 970,590, 990,610, 1010,580, 1030,600, 1050,590, 1070,615, 1090,585, 1110,600, 1130,590, 1150,610, 1170,580, 1190,595, 1210,605, 1230,585, 1250,600, 1270,590, 1290,610, 1310,580, 1330,600, 1350,615, 1370,590, 1390,605, 1410,620, 1430,595, 1450,610, 1470,625, 1490,600, 1510,615, 1530,590, 1550,605, 1570,620, 1590,595, 1610,610, 1630,600, 1650,620, 1670,605, 1690,595, 1710,615, 1730,600, 1750,625, 1770,610, 1790,640, 1810,600, 1830,630, 1850,615, 1870,595, 1890,635, 1910,610, 1930,605, 1950,640, 1970,600, 1990,620, 2020,650, 2040,600, 900,560, 1000,560, 1100,575, 1200,565, 1300,560, 1400,575, 1500,640, 1600,650, 1700,575, 950,625, 1050,625, 1150,630, 1250,620, 1350,640, 1440,640, 1550,560, 1800,580, 1300,660, 1750,660,
  800,620, 820,575, 840,615, 860,575, 880,620, 900,585, 920,600, 940,570, 960,615, 980,575, 1000,620, 1020,575, 1040,610, 1060,570, 1080,605, 1100,620, 1120,575, 1140,610, 1160,570, 1180,615, 1200,590, 1220,570, 1240,615, 1260,575, 1280,600, 1300,620, 1320,575, 1340,590, 1360,625, 1380,575, 1400,600, 1420,585, 1440,615, 1460,580,
  2300,600, 2320,580, 2340,620, 2360,590, 2380,570, 2400,610, 2420,585, 2440,600, 2460,560, 2480,620, 2500,590, 2520,575, 2540,600, 2560,630, 2580,590, 2600,570, 2620,610, 2640,560, 2320,540, 2400,550, 2500,640, 2580,640, 2450,530,
  1280,510, 1300,480, 1320,460, 1340,500, 1360,470, 1380,450, 1400,490, 1420,465, 1440,445, 1460,480, 1480,455, 1500,470, 1520,440, 1540,465, 1560,450, 1580,430, 1600,470, 1620,445, 1640,460, 1660,425, 1680,455, 1700,470, 1720,440, 1740,465, 1760,450, 1780,430, 1800,475, 1820,445, 1840,460, 1860,435, 1880,470, 1900,450, 1920,425, 1940,465, 1960,440, 1980,455, 2000,470, 2020,435, 2040,450, 2060,480, 2080,445, 2100,460, 2120,490, 2140,445, 2160,465, 2180,440, 2200,455, 2220,435, 2250,450, 1350,440, 1450,500, 1550,480, 1650,490, 1750,420, 1850,495, 1950,420, 2050,500, 2150,430, 1310,520, 1400,440,
  1310,470, 1330,440, 1350,480, 1370,455, 1390,435, 1410,470, 1430,445, 1450,460, 1470,430, 1490,475, 1510,450, 1530,430, 1550,465, 1570,440, 1590,475, 1610,455, 1630,430, 1650,470, 1670,440, 1690,425, 1710,460, 1730,475, 1750,445, 1770,460, 1790,440, 1810,455, 1830,425, 1850,470, 1870,450, 1890,430, 1910,465, 1930,445, 1950,460, 1970,430, 1990,470, 2010,450, 2030,465, 2050,440, 2070,460, 2090,430, 2110,455, 2130,470, 2150,450, 2170,425, 2190,460, 2210,445, 2230,465,
  2350,440, 2380,430, 2420,460, 2470,480, 2510,450, 2550,490, 2580,470, 2620,480, 2400,470,
  1090,1100, 1130,1085, 1160,1100, 1190,1095, 1230,1100, 1180,1060, 1200,1040, 1120,1000, 1210,990, 1240,960, 1250,880, 1220,860, 1180,870, 1160,840, 1130,900, 1100,810, 1200,790, 1260,820, 1270,1050,
  1300,780, 1320,820, 1340,800, 1360,760, 1380,840, 1400,790, 1420,810, 1440,770, 1460,830, 1480,790, 1500,800, 1520,760, 1540,820, 1560,780, 1580,850, 1600,800, 1620,770, 1640,825, 1660,790, 1680,810, 1700,840, 1720,790, 1740,820, 1760,800, 1780,860, 1800,815, 1820,790, 1840,830, 1860,800, 1880,775, 1900,820, 1920,790, 1940,805, 1960,780, 1980,820, 2000,795, 2020,810, 2040,780, 2060,800, 2080,825, 2100,790, 2120,810, 2140,780, 2160,800, 2180,770, 2200,815, 2220,790, 2240,800, 2260,780, 2280,820, 2300,790, 2320,810, 2340,780, 2360,800, 2380,770, 2400,820, 2420,800, 2440,790, 2460,810, 2480,780, 2500,815, 2520,800, 2540,830, 2560,820, 2580,790, 2600,840, 2620,810, 2640,830,
  1400,880, 1500,860, 1600,870, 1700,880, 1800,890, 1900,870, 2000,860, 2100,880, 2200,850, 2300,860, 2400,870, 2500,880, 2600,870, 1450,740, 1550,740, 1700,750, 1850,760, 2000,750, 2150,740, 2300,760, 2450,740, 2600,750, 2640,700,
  1300,900, 1340,930, 1380,910, 1420,960, 1460,1000, 1500,1020, 1540,980, 1580,1040, 1620,960, 1660,1000, 1700,940, 1740,1030, 1780,980, 1800,950, 1820,900, 1860,1000, 1880,1020, 1900,980, 1920,950, 1940,1010, 1960,1020, 1980,970, 2000,1030, 2020,960, 2040,1010, 2060,990, 2080,1025, 2100,950, 2120,1000, 2140,980, 2160,1010, 2180,960, 2200,940, 2220,990, 2240,1000, 2260,960, 2280,1020, 2300,980, 2320,950, 2340,1000, 2380,1010, 2420,960, 2450,990, 2480,1030, 2500,970, 2520,1000, 2540,1020, 2560,960, 2580,990, 2600,940, 2620,1000, 2640,960, 1500,1080, 1620,1030, 1710,1000, 1880,920, 2050,930, 2200,1010, 2350,940, 1950,910, 1350,870, 2600,700, 2620,720
];

const NAVY = '#1d1d78';
const RED = '#f2121a';
const GREEN = '#1f9e3a';

function pairs(flat, div) {
  const out = [];
  for (let i = 0; i + 1 < flat.length; i += 2) out.push({ x: flat[i] / div, y: flat[i + 1] });
  return out;
}

function vline(x, yTop, color, width, dash) {
  return {
    data: [{ x: x, y: 0 }, { x: x, y: yTop }],
    showLine: true, borderColor: color, borderWidth: width, borderDash: dash || [],
    pointRadius: 0, order: 0
  };
}

// box, inward ticks, dotted grid and the DAF arrow
const frame = {
  id: 'frame',
  beforeDatasetsDraw(chart, args, o) {
    if (!o.grid) return;
    const { ctx, chartArea: a, scales: { x } } = chart;
    ctx.save();
    ctx.strokeStyle = '#b0b0b0';
    ctx.lineWidth = 1;
    ctx.setLineDash([1, 3]);
    o.grid.forEach(v => {
      const px = Math.round(x.getPixelForValue(v)) + 0.5;
      ctx.beginPath(); ctx.moveTo(px, a.top); ctx.lineTo(px, a.bottom); ctx.stroke();
    });
    ctx.restore();
  },
  afterDatasetsDraw(chart, args, o) {
    const { ctx, chartArea: a, scales: { x, y } } = chart;
    ctx.save();
    if (o.daf) {
      const x0 = x.getPixelForValue(0), x1 = x.getPixelForValue(o.daf.end);
      const py = y.getPixelForValue(o.daf.level);
      ctx.strokeStyle = GREEN; ctx.fillStyle = GREEN; ctx.lineWidth = 2.5;
      ctx.beginPath(); ctx.moveTo(x0, py); ctx.lineTo(x1, py); ctx.stroke();
      ctx.beginPath(); ctx.moveTo(x1 - 8, py - 5); ctx.lineTo(x1, py); ctx.lineTo(x1 - 8, py + 5); ctx.stroke();
      ctx.font = 'bold 15px "Liberation Sans", Arial, sans-serif';
      ctx.textBaseline = 'alphabetic';
      ctx.fillText('DAF on', x.getPixelForValue(0.18), py - 9);
    }
    ctx.strokeStyle = o.boxColor;
    ctx.lineWidth = 1;
    ctx.strokeRect(a.left + 0.5, a.top + 0.5, a.right - a.left - 1, a.bottom - a.top - 1);
    ctx.beginPath();
    x.ticks.forEach(t => {
      const px = Math.round(x.getPixelForValue(t.value)) + 0.5;
      if (px < a.left + 2 || px > a.right - 2) return;
      ctx.moveTo(px, a.bottom); ctx.lineTo(px, a.bottom - 4);
      ctx.moveTo(px, a.top); ctx.lineTo(px, a.top + 4);
    });
    y.ticks.forEach(t => {
      const py = Math.round(y.getPixelForValue(t.value)) + 0.5;
      if (py < a.top + 2 || py > a.bottom - 2) return;
      ctx.moveTo(a.left, py); ctx.lineTo(a.left + 4, py);
      ctx.moveTo(a.right, py); ctx.lineTo(a.right - 4, py);
    });
    ctx.stroke();
    ctx.restore();
  }
};

function makePanel(id, c) {
  const [L, T, R, B] = c.box;
  const padL = 45, padT = 10, padR = 16, padB = 22;
  const wrap = document.getElementById(id);
  wrap.style.left = (L - padL) + 'px';
  wrap.style.top = (T - padT) + 'px';
  const cv = document.createElement('canvas');
  cv.width = R - L + padL + padR;
  cv.height = B - T + padT + padB;
  wrap.appendChild(cv);

  const datasets = [];
  if (c.daf) datasets.push(vline(0, c.yMax, GREEN, 3, [13, 7]));
  (c.red || []).forEach(v => datasets.push(vline(v, c.yMax, RED, 3)));
  datasets.push({ data: c.points, pointRadius: 1.35, pointBackgroundColor: NAVY, pointBorderWidth: 0, order: 1 });

  const tickFont = c.small
    ? { family: '"Liberation Sans", Arial, sans-serif', size: 11 }
    : { family: '"Liberation Sans", Arial, sans-serif', size: 10, weight: 'bold' };
  const tickOpts = { font: tickFont, color: '#111', padding: c.small ? 4 : 3, callback: v => v, autoSkip: false, maxRotation: 0 };

  new Chart(cv, {
    type: 'scatter',
    data: { datasets },
    options: {
      responsive: false, animation: false, devicePixelRatio: 1, events: [],
      layout: { padding: { left: 0, top: padT, right: padR, bottom: 0 } },
      plugins: {
        legend: { display: false }, tooltip: { enabled: false },
        frame: { grid: c.grid, daf: c.daf, boxColor: c.small ? '#555' : '#333' }
      },
      scales: {
        x: {
          type: 'linear', min: c.xMin, max: c.xMax,
          ticks: Object.assign({ stepSize: c.xStep }, tickOpts),
          afterBuildTicks: c.xTicks ? (s => { s.ticks = c.xTicks.map(v => ({ value: v })); }) : undefined,
          grid: { display: false }, border: { display: false },
          afterFit: s => { s.height = padB; }
        },
        y: {
          min: 0, max: c.yMax,
          ticks: Object.assign({ stepSize: c.yStep }, tickOpts),
          grid: { display: false }, border: { display: false },
          afterFit: s => { s.width = padL; }
        }
      }
    },
    plugins: [frame]
  });
}

makePanel('pAL', { box: [61, 32, 366, 313], xMin: dayMin, xMax: dayMax, xStep: 1, yMax: ioiMaxA, yStep: ioiStepA,
  points: pairs(dayA, 100), daf: { end: dafEnd[0], level: dafLevel[0] } });
makePanel('pAR', { box: [430, 33, 734, 314], xMin: 0, xMax: 3000, xTicks: eventTicksAB, yMax: ioiMaxA, yStep: ioiStepA,
  points: pairs(evtA, 1), red: redA, grid: eventGridAB });
makePanel('pBL', { box: [61, 377, 367, 643], xMin: dayMin, xMax: dayMax, xStep: 1, yMax: ioiMaxB, yStep: ioiStepB,
  points: pairs(dayB, 100), daf: { end: dafEnd[1], level: dafLevel[1] } });
makePanel('pBR', { box: [433, 377, 737, 643], xMin: 0, xMax: 3000, xTicks: eventTicksAB, yMax: ioiMaxB, yStep: ioiStepB,
  points: pairs(evtB, 1), red: redB, grid: eventGridAB });
makePanel('pCL', { box: [62, 706, 363, 996], xMin: dayMin, xMax: dayMax, xStep: 1, yMax: ioiMaxC, yStep: ioiStepC,
  points: pairs(dayC, 100), daf: { end: dafEnd[2], level: dafLevel[2] }, small: true });
makePanel('pCR', { box: [439, 706, 738, 995], xMin: 0, xMax: 3000, xTicks: eventTicksC, yMax: ioiMaxC, yStep: ioiStepC,
  points: pairs(evtC, 1), red: redC, small: true });
</script>
</body>
</html>
